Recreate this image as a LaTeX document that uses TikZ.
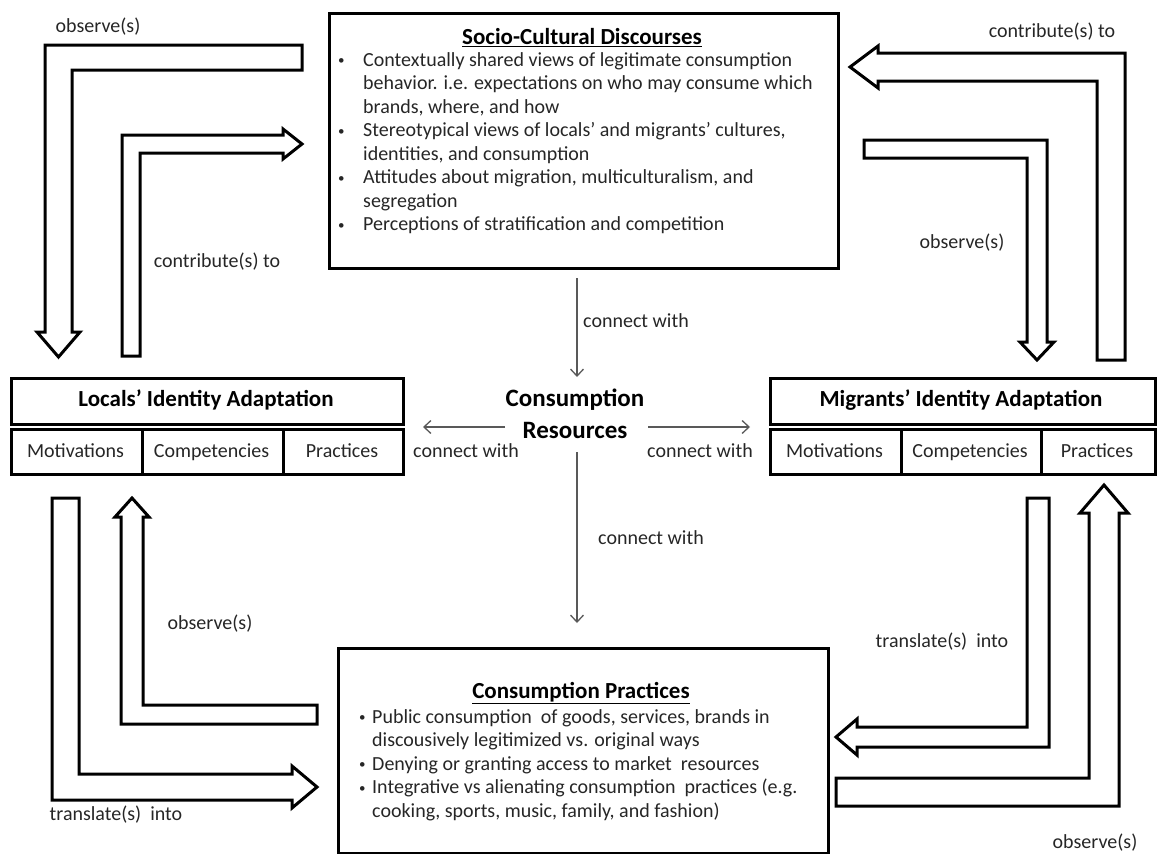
\documentclass[tikz,border=0pt]{standalone}
\usepackage{fontspec}
\setmainfont{Carlito}
\usetikzlibrary{arrows.meta}
\newcommand{\smallbul}{\raisebox{1.5pt}{\fontsize{13}{13}\selectfont\textbullet}}
\begin{document}
\begin{tikzpicture}[x=1pt,y=-1pt,
  listtxt/.style={text=black!85, font=\fontsize{20}{23.5}\selectfont, inner sep=0pt},
  txt/.style={text=black!85, font=\fontsize{20}{23.5}\selectfont, inner sep=0pt, text height=14pt, text depth=4pt},
  ttl/.style={text=black, font=\fontsize{23}{28}\selectfont\bfseries, inner sep=0pt, text height=16pt, text depth=5pt},
  bigttl/.style={text=black, font=\fontsize{25}{32}\selectfont\bfseries, inner sep=0pt, align=center},
  frame/.style={draw=black, line width=3pt, anchor=north west, inner sep=0pt},
  blockarrow/.style={draw=black, line width=3pt, fill=white, line join=miter},
  thinarrow/.style={draw=black!65, line width=1.3pt, -{Straight Barb[length=7pt,width=13pt]}}
]
\useasboundingbox (0,0) rectangle (1160,854);

% ---------- main boxes ----------
\node[frame, minimum width=509pt, minimum height=255pt] (sc) at (328,12) {};
\node[frame, minimum width=490pt, minimum height=205pt] (cp) at (337,647) {};

% Locals' identity adaptation
\node[frame, minimum width=392pt, minimum height=46pt] (lhead) at (10,377) {};
\node[frame, minimum width=131pt, minimum height=45pt] (lmot) at (10,428) {};
\node[frame, minimum width=141pt, minimum height=45pt] (lcom) at (141,428) {};
\node[frame, minimum width=120pt, minimum height=45pt] (lpra) at (282,428) {};
% Migrants' identity adaptation
\node[frame, minimum width=385pt, minimum height=46pt] (mhead) at (769,377) {};
\node[frame, minimum width=131pt, minimum height=45pt] (mmot) at (769,428) {};
\node[frame, minimum width=140pt, minimum height=45pt] (mcom) at (900,428) {};
\node[frame, minimum width=114pt, minimum height=45pt] (mpra) at (1040,428) {};

\node[ttl] (lheadtxt) at (206,401) {Locals’ Identity Adaptation};
\node[txt] (lmottxt) at (75.5,452) {Motivations};
\node[txt] (lcomtxt) at (211.5,452) {Competencies};
\node[txt] (lpratxt) at (342,452) {Practices};
\node[ttl] (mheadtxt) at (961,401) {Migrants’ Identity Adaptation};
\node[txt] (mmottxt) at (834.5,452) {Motivations};
\node[txt] (mcomtxt) at (970,452) {Competencies};
\node[txt] (mpratxt) at (1097,452) {Practices};

% ---------- box contents ----------
\node[ttl] (sctitle) at (582,39) {\underline{Socio-Cultural Discourses}};
\node[listtxt, anchor=north west] (sclist) at (338,49.7) {%
\begin{tabular}{@{}p{25pt}@{}l@{}}
\smallbul & Contextually shared views of legitimate consumption\\
 & behavior. i.e. expectations on who may consume which\\
 & brands, where, and how\\
\smallbul & Stereotypical views of locals’ and migrants’ cultures,\\
 & identities, and consumption\\
\smallbul & Attitudes about migration, multiculturalism, and\\
 & segregation\\
\smallbul & Perceptions of stratification and competition
\end{tabular}};

\node[ttl] (cptitle) at (581,693) {\underline{Consumption Practices}};
\node[listtxt, anchor=north west] (cplist) at (359,706.4) {%
\begin{tabular}{@{}p{13pt}@{}l@{}}
\smallbul & Public consumption\ \ of goods, services, brands in\\
 & discousively legitimized vs. original ways\\
\smallbul & Denying or granting access to market\ \ resources\\
\smallbul & Integrative vs alienating consumption\ \ practices (e.g.\\
 & cooking, sports, music, family, and fashion)
\end{tabular}};

\node[bigttl] (cr) at (575,414) {Consumption\\Resources};

% ---------- thin connectors ----------
\coordinate (scout) at (577,278);
\coordinate (crtop) at (577,377);
\coordinate (crleft) at (505,427);
\coordinate (lin) at (423,427);
\coordinate (crright) at (648,427);
\coordinate (min) at (750,427);
\coordinate (crbot) at (577,452);
\coordinate (cpin) at (577,623);
\draw[thinarrow] (scout) -- (crtop);
\draw[thinarrow] (crleft) -- (lin);
\draw[thinarrow] (crright) -- (min);
\draw[thinarrow] (crbot) -- (cpin);

\node[txt] (cw1) at (636,322) {connect with};
\node[txt] (cw2) at (466,452) {connect with};
\node[txt] (cw3) at (700,452) {connect with};
\node[txt] (cw4) at (651,539) {connect with};

% ---------- block arrows ----------
% top-left: observe(s), down to Locals
\draw[blockarrow] (302,45) -- (45,45) -- (45,332) -- (37,332) -- (58.5,357) -- (80,332) -- (72,332) -- (72,70) -- (302,70) -- cycle;
% top-left: contribute(s) to, right to Socio-Cultural
\draw[blockarrow] (122,356) -- (122,135) -- (283,135) -- (283,129) -- (302,144) -- (283,159) -- (283,153) -- (140,153) -- (140,356) -- cycle;
% top-right: contribute(s) to, left to Socio-Cultural
\draw[blockarrow] (1125,360) -- (1125,53) -- (878,53) -- (878,46) -- (850,67) -- (878,88) -- (878,81) -- (1097,81) -- (1097,360) -- cycle;
% top-right: observe(s), down to Migrants
\draw[blockarrow] (864,140) -- (1047,140) -- (1047,342) -- (1054,342) -- (1037,360) -- (1020,342) -- (1027,342) -- (1027,158) -- (864,158) -- cycle;
% bottom-left: translate(s) into, right to Consumption Practices
\draw[blockarrow] (52,498) -- (52,800) -- (292,800) -- (292,808) -- (317,787) -- (292,766) -- (292,774) -- (79,774) -- (79,498) -- cycle;
% bottom-left: observe(s), up to Locals
\draw[blockarrow] (317,705) -- (143,705) -- (143,517) -- (149,517) -- (132,498) -- (115,517) -- (121,517) -- (121,724) -- (317,724) -- cycle;
% bottom-right: translate(s) into, left to Consumption Practices
\draw[blockarrow] (1027,498) -- (1049,498) -- (1049,747) -- (857,747) -- (857,755) -- (836,737) -- (857,719) -- (857,727) -- (1027,727) -- cycle;
% bottom-right: observe(s), up to Migrants
\draw[blockarrow] (836,778) -- (1089,778) -- (1089,513) -- (1080,513) -- (1104,485) -- (1128,513) -- (1119,513) -- (1119,806) -- (836,806) -- cycle;

% ---------- block arrow labels ----------
\node[txt] (lobs1) at (98,27) {observe(s)};
\node[txt] (lcon) at (217,262) {contribute(s) to};
\node[txt] (rcon) at (1052,32) {contribute(s) to};
\node[txt] (robs1) at (962,243) {observe(s)};
\node[txt] (ltr) at (116,815) {translate(s)\ \ into};
\node[txt] (lobs2) at (210,624) {observe(s)};
\node[txt] (rtr) at (942,642) {translate(s)\ \ into};
\node[txt] (robs2) at (1095,843) {observe(s)};
\end{tikzpicture}
\end{document}
